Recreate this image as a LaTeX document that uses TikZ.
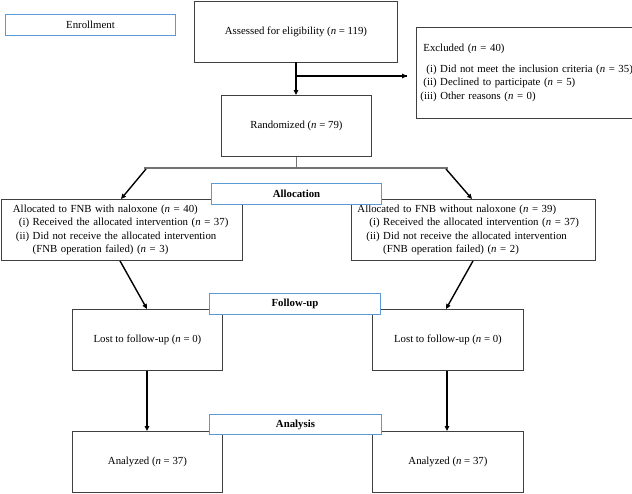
\documentclass[tikz,border=0pt]{standalone}
\usepackage{fontspec}
\setmainfont{Liberation Serif}
\usetikzlibrary{arrows.meta}
\newcommand{\nn}{\textit{n}}
\begin{document}
\begin{tikzpicture}[x=1pt,y=-1pt,
  box/.style={draw=black!75, line width=0.9pt, fill=white, inner sep=0pt, anchor=north west, align=center,
    font=\fontsize{10.8}{13.5}\selectfont},
  hdr/.style={draw=headblue, line width=1pt, fill=white, inner sep=0pt, anchor=north west, align=center,
    font=\fontsize{10.8}{13.5}\selectfont},
  arr/.style={line width=1.4pt, -{Triangle[length=5pt,width=4.5pt]}},
  gline/.style={draw=black!55, line width=1pt}]
\definecolor{headblue}{RGB}{91,155,213}
\useasboundingbox (0,0) rectangle (632,493);

% boxes
\node[box, minimum width=203pt, minimum height=61pt] (assess) at (194,0.5) {Assessed for eligibility (\nn{} = 119)};
\node[box, minimum width=215.5pt, minimum height=91pt, text width=208pt, inner xsep=4pt, align=left] (excl) at (416,27)
  {\begin{tabular}{@{}r@{\ }l@{}}
   \multicolumn{2}{@{\hspace*{3pt}}l@{}}{Excluded (\nn{} = 40)}\\[7pt]
   (i) & Did not meet the inclusion criteria (\nn{} = 35)\\
   (ii) & Declined to participate (\nn{} = 5)\\
   (iii) & Other reasons (\nn{} = 0)
   \end{tabular}};
\node[box, minimum width=150pt, minimum height=61pt] (rand) at (221,95) {Randomized (\nn{} = 79)};

\node[box, minimum width=241pt, minimum height=61pt, text width=217pt, inner xsep=12pt, align=left] (allocL) at (0.5,199)
  {\begin{tabular}{@{\hspace*{3pt}}r@{\ }l@{}}
   \multicolumn{2}{@{}l@{}}{Allocated to FNB with naloxone (\nn{} = 40)}\\
   (i) & Received the allocated intervention (\nn{} = 37)\\
   (ii) & Did not receive the allocated intervention\\
    & (FNB operation failed) (\nn{} = 3)
   \end{tabular}};
\node[box, minimum width=244pt, minimum height=61pt, text width=232pt, inner xsep=6pt, align=left] (allocR) at (351,199)
  {\begin{tabular}{@{\hspace*{9pt}}r@{\ }l@{}}
   \multicolumn{2}{@{}l@{}}{Allocated to FNB without naloxone (\nn{} = 39)}\\
   (i) & Received the allocated intervention (\nn{} = 37)\\
   (ii) & Did not receive the allocated intervention\\
    & (FNB operation failed) (\nn{} = 2)
   \end{tabular}};

\node[box, minimum width=150pt, minimum height=61pt] (lostL) at (72,309) {Lost to follow-up (\nn{} = 0)};
\node[box, minimum width=151pt, minimum height=61pt] (lostR) at (372,309) {Lost to follow-up (\nn{} = 0)};
\node[box, minimum width=150pt, minimum height=61pt] (anaL) at (72,431) {Analyzed (\nn{} = 37)};
\node[box, minimum width=151pt, minimum height=61pt] (anaR) at (372,431) {Analyzed (\nn{} = 37)};

% connectors
\coordinate (split) at (296,76);
\coordinate (exclTip) at (407,76);
\coordinate (junc) at (296,168);
\coordinate (hl) at (144,168);
\coordinate (hr) at (448,168);
\coordinate (dl) at (146,169);
\coordinate (dr) at (446,169);

\draw[arr] (assess.south -| split) -- (rand.north -| split);
\draw[line width=1.4pt] (split) -- (exclTip);
\draw[arr] (split) -- (exclTip);
\draw[gline, line width=0.8pt] (rand.south -| junc) -- (junc);
\draw[gline, line width=1.4pt] (hl) -- (hr);
\draw[arr] (dl) -- (allocL.north -| 121,0);
\draw[arr] (dr) -- (allocR.north -| 472,0);
\draw[arr] (allocL.south -| 120,0) -- (lostL.north -| 147,0);
\draw[arr] (allocR.south -| 473,0) -- (lostR.north -| 446,0);
\draw[arr] (lostL.south -| 147,0) -- (anaL.north -| 147,0);
\draw[arr] (lostR.south -| 447,0) -- (anaR.north -| 447,0);

% header boxes
\node[hdr, minimum width=170pt, minimum height=21pt] (enroll) at (5,14) {Enrollment};
\node[hdr, minimum width=170pt, minimum height=21pt, font=\fontsize{10.8}{13.5}\selectfont\bfseries] (alloc) at (211,183) {Allocation};
\node[hdr, minimum width=171pt, minimum height=21pt, font=\fontsize{10.8}{13.5}\selectfont\bfseries] (follow) at (209,293) {Follow-up};
\node[hdr, minimum width=172pt, minimum height=20pt, font=\fontsize{10.8}{13.5}\selectfont\bfseries] (analysis) at (209,414) {Analysis};
\end{tikzpicture}
\end{document}
